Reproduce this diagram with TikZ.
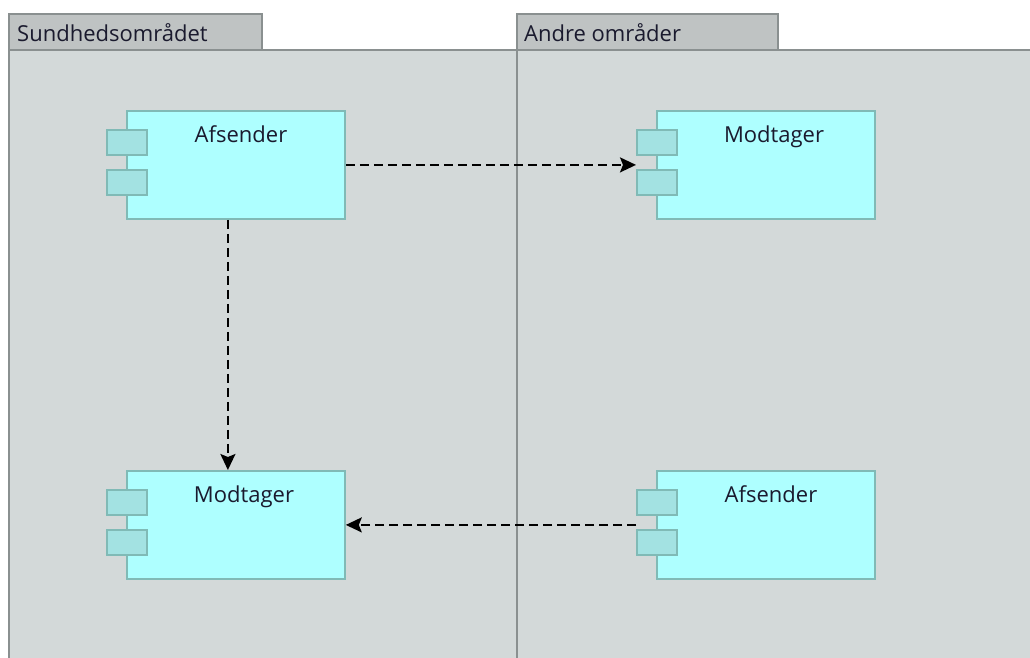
\documentclass[tikz,border=0pt]{standalone}
\usepackage{fontspec}
\setmainfont{Open Sans}
\usetikzlibrary{arrows.meta}
\definecolor{pkgbody}{HTML}{D3D9D9}
\definecolor{pkgtab}{HTML}{BFC3C3}
\definecolor{pkgline}{HTML}{8A9090}
\definecolor{compfill}{HTML}{AEFFFF}
\definecolor{compline}{HTML}{80BAB6}
\definecolor{portfill}{HTML}{A3E2E2}
\definecolor{labeltext}{HTML}{1A1A2E}
\tikzset{
  pkg/.style={draw=pkgline, fill=pkgbody, line width=1.6pt},
  tab/.style={draw=pkgline, fill=pkgtab, line width=1.6pt},
  tablabel/.style={anchor=base west, inner sep=0pt, font=\fontsize{22}{26}\selectfont, text=labeltext},
  comp/.style={draw=compline, fill=compfill, line width=1.8pt, minimum width=218pt, minimum height=108pt, inner sep=0pt},
  port/.style={draw=compline, fill=portfill, line width=1.8pt, minimum width=40pt, minimum height=25pt, inner sep=0pt},
  complabel/.style={anchor=base, inner sep=0pt, font=\fontsize{22}{26}\selectfont, text=labeltext},
  dep/.style={draw=black, line width=2pt, dash pattern=on 9pt off 5pt, -{Stealth[length=16pt, width=15pt, inset=3pt]}}
}
\begin{document}
\begin{tikzpicture}[x=1pt, y=-1pt]
\useasboundingbox (0,0) rectangle (1030,657);
\clip (0,0) rectangle (1030,657);
\fill[white] (0,0) rectangle (1030,657);
% packages
\draw[tab] (9,14) rectangle (262,50);
\draw[tab] (517,14) rectangle (778,50);
\draw[pkg] (9,50) rectangle (517,670);
\draw[pkg] (517,50) rectangle (1040,670);
\node[tablabel] (t1) at (17,41) {Sundhedsområdet};
\node[tablabel] (t2) at (524,41) {Andre områder};
% components
\node[comp, anchor=north west] (a1) at (126,110) {};
\node[port, anchor=north west] (a1p1) at (106,129) {};
\node[port, anchor=north west] (a1p2) at (106,169) {};
\node[complabel] (a1l) at (241,142) {Afsender};

\node[comp, anchor=north west] (m1) at (656,110) {};
\node[port, anchor=north west] (m1p1) at (636,129) {};
\node[port, anchor=north west] (m1p2) at (636,169) {};
\node[complabel] (m1l) at (774,142) {Modtager};

\node[comp, anchor=north west] (m2) at (126,470) {};
\node[port, anchor=north west] (m2p1) at (106,489) {};
\node[port, anchor=north west] (m2p2) at (106,529) {};
\node[complabel] (m2l) at (244,502) {Modtager};

\node[comp, anchor=north west] (a2) at (656,470) {};
\node[port, anchor=north west] (a2p1) at (636,489) {};
\node[port, anchor=north west] (a2p2) at (636,529) {};
\node[complabel] (a2l) at (771,502) {Afsender};
% dependencies
\draw[dep] (a1.east) -- (a1.east -| m1p1.west);
\draw[dep] ([xshift=-8pt]a1.south) -- ([xshift=-8pt]m2.north);
\draw[dep] (a2.west -| a2p1.west) -- (m2.east);
\end{tikzpicture}
\end{document}
